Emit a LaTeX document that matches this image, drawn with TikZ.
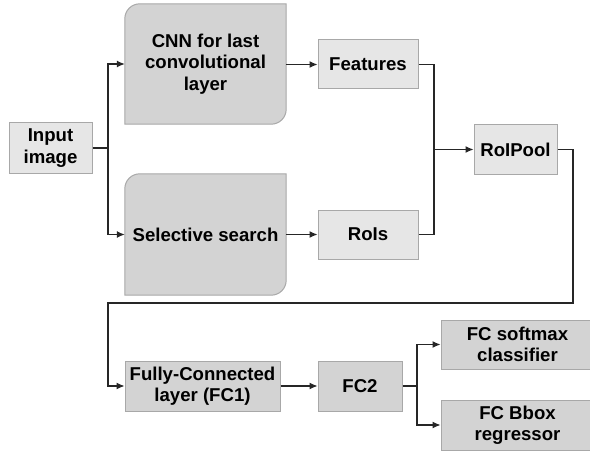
\documentclass[tikz,border=0pt]{standalone}
\usepackage{fontspec}
\setmainfont{Liberation Sans}
\usepackage{tikz}
\usetikzlibrary{backgrounds, arrows.meta}
\tikzset{>={Latex[length=8pt, width=7pt]}}
\definecolor{boxlight}{HTML}{E6E6E6}
\definecolor{boxdark}{HTML}{D3D3D3}
\definecolor{boxline}{HTML}{A8A8A8}
\tikzset{
    lbl/.style={font=\fontsize{18.6}{21.5}\selectfont\bfseries, align=center, inner sep=0pt},
    light/.style={lbl, draw=boxline, fill=boxlight, line width=1pt},
    dark/.style={lbl, draw=boxline, fill=boxdark, line width=1pt},
    wire/.style={line width=1.1pt, black!85}
}
\newcommand*{\leafbox}[1]{%
    \begin{pgfonlayer}{background}
    \draw[draw=boxline, fill=boxdark, line width=1pt](#1.south west)--([yshift=-15pt]#1.north west)
        arc[start angle=180, end angle=90, radius=15pt]--(#1.north east)
        --([yshift=15pt]#1.south east)arc[start angle=0, end angle=-90, radius=15pt]--cycle;
    \end{pgfonlayer}}
\begin{document}
\begin{tikzpicture}[x=1pt, y=1pt]
    \useasboundingbox(0, 0)rectangle(590, 451);
    \node[light, minimum width=83pt, minimum height=50pt](input)at(50.5, 303){Input\\image};
    \node[lbl, minimum width=161pt, minimum height=120pt](cnn)at(205.5, 387){CNN for last\\convolutional\\layer};
    \node[lbl, minimum width=161pt, minimum height=121pt](sel)at(205.5, 216.5){Selective search};
    \leafbox{cnn}
    \leafbox{sel}
    \node[light, minimum width=100pt, minimum height=49pt](feat)at(368, 386.5){Features};
    \node[light, minimum width=100pt, minimum height=49pt](rois)at(368, 216.5){RoIs};
    \node[light, minimum width=83pt, minimum height=49pt](pool)at(515.5, 301.5){RoIPool};
    \node[dark, minimum width=155pt, minimum height=50pt](fc1)at(202.5, 65){Fully-Connected\\layer (FC1)};
    \node[dark, minimum width=84pt, minimum height=50pt](fc2)at(360, 65){FC2};
    \node[dark, minimum width=153pt, minimum height=49pt](soft)at(517.5, 106.5){FC softmax\\classifier};
    \node[dark, minimum width=153pt, minimum height=50pt](bbox)at(517.5, 26){FC Bbox\\regressor};
    \coordinate(split)at(108, 303);
    \coordinate(merge)at(434, 301.5);
    \coordinate(turn)at(573, 148);
    \coordinate(back)at(108, 148);
    \coordinate(fork)at(417, 65);
    \draw[wire](input.east)--(split);
    \draw[wire, ->](split)|-(cnn.west);
    \draw[wire, ->](split)|-(sel.west);
    \draw[wire, ->](cnn.east|-feat)--(feat.west);
    \draw[wire, ->](sel.east)--(rois.west);
    \draw[wire](feat.east)-|(merge);
    \draw[wire](rois.east)-|(merge);
    \draw[wire, ->](merge)--(pool.west);
    \draw[wire, ->](pool.east)-|(turn)--(back)|-(fc1.west);
    \draw[wire, ->](fc1.east)--(fc2.west);
    \draw[wire](fc2.east)--(fork);
    \draw[wire, ->](fork)|-(soft.west);
    \draw[wire, ->](fork)|-(bbox.west);
\end{tikzpicture}
\end{document}
